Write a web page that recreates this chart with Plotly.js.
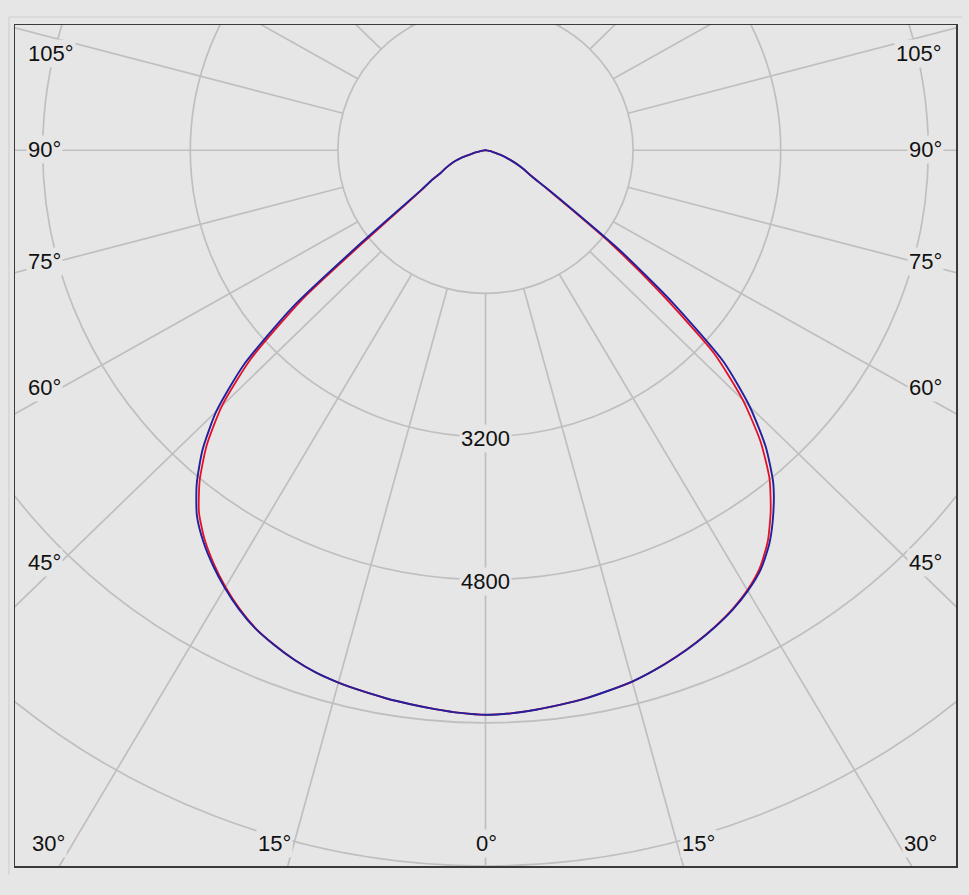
<!DOCTYPE html>
<html>
<head>
<meta charset="utf-8">
<script src="https://cdn.plot.ly/plotly-3.0.1.min.js"></script>
<style>
html,body{margin:0;padding:0;background:#e6e6e6;}
#chart{width:969px;height:895px;}
</style>
</head>
<body>
<div id="chart"></div>
<script>
// Polar angle from nadir (degrees) and luminous intensity (cd)
const gammaDeg = [0,2.5,5,7.5,10,12.5,15,17.5,20,22.5,25,27.5,30,32.5,35,37.5,40,42.5,45,47.5,50,52.5,55,57.5,60,62.5,65,67.5,70,72.5,75,77.5,80,82.5,85,87.5,90];
// blue plane (C270 left / C90 right)
const blueLeft  = [6310,6295,6270,6245,6220,6190,6160,6120,6060,5985,5900,5785,5650,5500,5335,5140,4870,4540,4125,3560,2735,1685,1110,825,680,545,480,415,345,270,155,100,55,32,15,6,0];
const blueRight = [6310,6300,6277,6250,6223,6185,6148,6093,6030,5960,5882,5794,5687,5554,5365,5124,4852,4496,4050,3500,2640,1830,1130,775,565,479,393,310,238,166,110,70,45,28,15,6,0];
// red plane (C180 left / C0 right)
const redLeft   = [6310,6295,6270,6245,6220,6190,6160,6120,6060,5983,5895,5776,5637,5481,5309,5102,4820,4473,4039,3446,2596,1565,1058,805,680,545,480,415,345,270,155,100,55,32,15,6,0];
const redRight  = [6310,6300,6277,6250,6222,6185,6148,6092,6028,5957,5878,5787,5677,5534,5335,5078,4789,4411,3942,3362,2464,1716,1077,757,565,479,393,310,238,166,110,70,45,28,15,6,0];

// grid
const ringValues = [1600,3200,4800,6400,8000,9600];
const ringLabels = ['3200','4800'];
const spokeAngles = [0,15,30,45,60,75,90,105,120,135,150,165,180];
const leftEdgeLabels = ['105°','90°','75°','60°','45°'];
const rightEdgeLabels = ['105°','90°','75°','60°','45°'];
const bottomLabels = ['30°','15°','0°','15°','30°'];

const BG = '#e6e6e6';
const GRID = '#bfbfbf';

function curveXY(left, right){
  const x = [], y = [];
  for (let i = gammaDeg.length - 1; i >= 0; i--) {
    const g = gammaDeg[i] * Math.PI / 180;
    x.push(-left[i] * Math.sin(g));
    y.push(-left[i] * Math.cos(g));
  }
  for (let i = 1; i < gammaDeg.length; i++) {
    const g = gammaDeg[i] * Math.PI / 180;
    x.push(right[i] * Math.sin(g));
    y.push(-right[i] * Math.cos(g));
  }
  return {x, y};
}

const red = curveXY(redLeft, redRight);
const blue = curveXY(blueLeft, blueRight);

const traces = [
  {type:'scatter', mode:'lines', x:red.x, y:red.y, line:{color:'#e3102a', width:1.8, shape:'spline', smoothing:0.6}, hoverinfo:'skip', showlegend:false},
  {type:'scatter', mode:'lines', x:blue.x, y:blue.y, line:{color:'#22209c', width:1.9, shape:'spline', smoothing:0.6}, hoverinfo:'skip', showlegend:false}
];

const shapes = [];
ringValues.forEach(r => {
  shapes.push({type:'circle', xref:'x', yref:'y', x0:-r, x1:r, y0:-r, y1:r,
    line:{color:GRID, width:1.7}, layer:'below'});
});
const rIn = ringValues[0], rOut = 14000;
spokeAngles.forEach(a => {
  [1, -1].forEach(side => {
    if ((a === 0 || a === 180) && side === -1) return;
    const t = a * Math.PI / 180;
    shapes.push({type:'line', xref:'x', yref:'y',
      x0: side * rIn * Math.sin(t), y0: -rIn * Math.cos(t),
      x1: side * rOut * Math.sin(t), y1: -rOut * Math.cos(t),
      line:{color:GRID, width:1.7}, layer:'below'});
  });
});
// outer light panel edge
shapes.push({type:'line', xref:'paper', yref:'paper', x0:-0.0064, x1:1.0064, y0:1.0095, y1:1.0095, line:{color:'#cdcdcd', width:1}});
shapes.push({type:'line', xref:'paper', yref:'paper', x0:-0.0064, x1:-0.0064, y0:1.0095, y1:-0.0107, line:{color:'#cdcdcd', width:1}});

// plot area in pixels: x 15..956, y 25..866
const L = 15, T = 25, W = 941, H = 841;
const px = v => (v - L) / W;
const py = v => (T + H - v) / H;

const font = {family:'"Liberation Sans", Arial, sans-serif', size:22, color:'#111111'};
const annotations = [];
const edgeY = [53, 149, 261, 387.5, 562.5];
leftEdgeLabels.forEach((t, i) => {
  annotations.push({text:t, xref:'paper', yref:'paper', x:px(26), y:py(edgeY[i]),
    xanchor:'left', yanchor:'middle', showarrow:false, font, bgcolor:BG, borderpad:1});
});
rightEdgeLabels.forEach((t, i) => {
  annotations.push({text:t, xref:'paper', yref:'paper', x:px(944), y:py(edgeY[i]),
    xanchor:'right', yanchor:'middle', showarrow:false, font, bgcolor:BG, borderpad:1});
});
const bottomX = [48.5, 274, 486, 698, 920];
bottomLabels.forEach((t, i) => {
  annotations.push({text:t, xref:'paper', yref:'paper', x:px(bottomX[i]), y:py(843),
    xanchor:'center', yanchor:'middle', showarrow:false, font, bgcolor:BG, borderpad:1});
});
ringLabels.forEach(t => {
  annotations.push({text:t, xref:'x', yref:'y', x:0, y:-Number(t), yshift:-2,
    xanchor:'center', yanchor:'middle', showarrow:false, font, bgcolor:BG, borderpad:1});
});

const axisCommon = {showgrid:false, zeroline:false, showticklabels:false, ticks:'',
  showline:true, mirror:true, linecolor:'#3a3a3a', linewidth:1.5, fixedrange:true};

const layout = {
  width:969, height:895,
  margin:{l:L, r:969 - L - W, t:T, b:895 - T - H},
  paper_bgcolor:BG, plot_bgcolor:BG,
  xaxis:Object.assign({range:[-5100, 5100]}, axisCommon),
  yaxis:Object.assign({range:[-8000, 1400]}, axisCommon),
  shapes, annotations, showlegend:false
};

Plotly.newPlot('chart', traces, layout, {displayModeBar:false, staticPlot:true});
</script>
</body>
</html>
